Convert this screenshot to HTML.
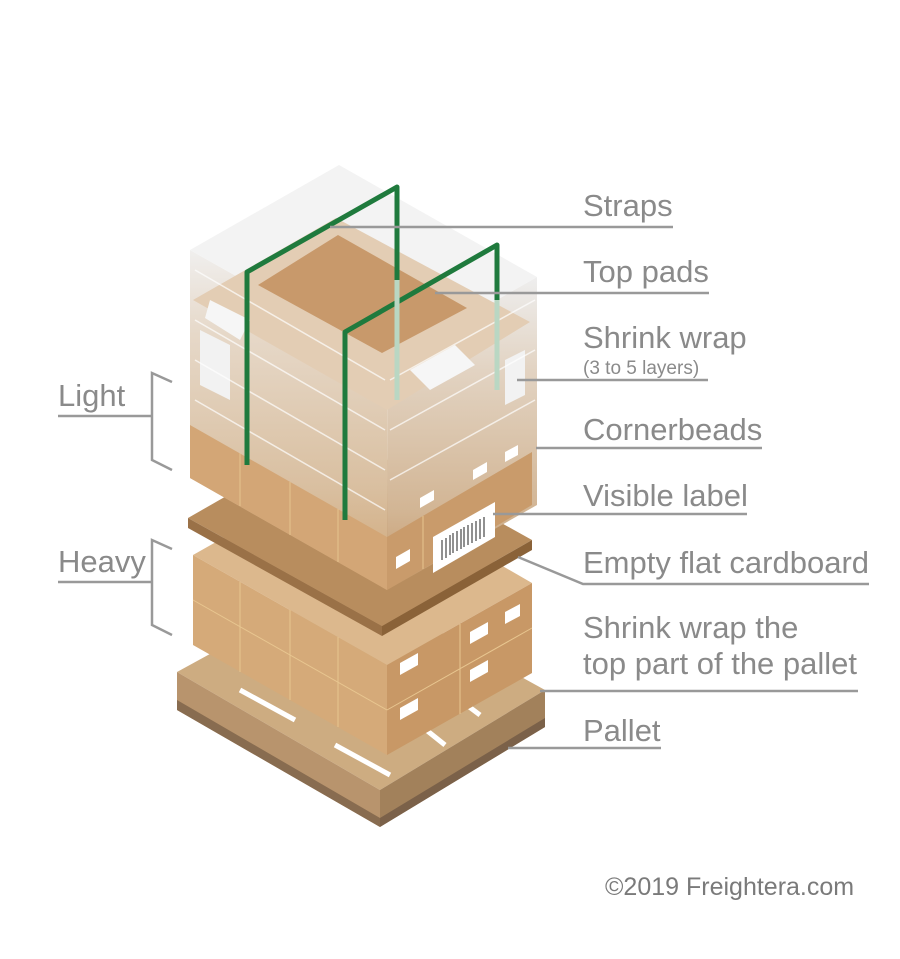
<!DOCTYPE html>
<html><head><meta charset="utf-8"><style>
html,body{margin:0;padding:0;background:#fff;}
svg{display:block;}
text{font-family:"Liberation Sans",Arial,sans-serif;fill:#8a8a8a;}
</style></head><body>
<svg width="900" height="959" viewBox="0 0 900 959" xmlns="http://www.w3.org/2000/svg">
<defs>
<linearGradient id="lf" x1="0" y1="0" x2="0" y2="1">
<stop offset="0" stop-color="#f0efee"/><stop offset="0.25" stop-color="#e6d8c8"/><stop offset="0.7" stop-color="#d9bfa0"/><stop offset="1" stop-color="#cfa676"/>
</linearGradient>
<linearGradient id="rf" x1="0" y1="0" x2="0" y2="1">
<stop offset="0" stop-color="#eeeeee"/><stop offset="0.3" stop-color="#e2d3c2"/><stop offset="0.75" stop-color="#d2b594"/><stop offset="1" stop-color="#c49868"/>
</linearGradient>
</defs>

<!-- PALLET -->
<polygon points="177,672 345,580 545,690 380,790" fill="#c39a66"/>
<polygon points="177,672 380,790 380,827 177,710" fill="#a97d4d"/>
<polygon points="380,790 545,690 545,727 380,827" fill="#8e6638"/>
<polygon points="177,700 380,818 380,827 177,710" fill="#6e4c2a"/>
<polygon points="380,818 545,718 545,727 380,827" fill="#5e3f22"/>
<g stroke="#fff" stroke-width="5">
<line x1="240" y1="690" x2="295" y2="720"/>
<line x1="335" y1="745" x2="390" y2="775"/>
<line x1="420" y1="725" x2="445" y2="745"/>
<line x1="460" y1="700" x2="480" y2="715"/>
</g>
<polygon points="175,665 348,572 548,685 548,735 380,832 175,715" fill="#ffffff" opacity="0.18"/>

<!-- LOWER BOXES -->
<polygon points="193,555 340,472 532,583 387,665" fill="#dcb88d"/>
<polygon points="193,555 387,665 387,755 193,645" fill="#d5aa79"/>
<polygon points="387,665 532,583 532,673 387,755" fill="#c89866"/>
<g stroke="#e8c690" stroke-width="1" fill="none">
<line x1="193" y1="600" x2="387" y2="710"/>
<line x1="387" y1="710" x2="532" y2="628"/>
<line x1="240" y1="582" x2="240" y2="672"/>
<line x1="290" y1="610" x2="290" y2="700"/>
<line x1="338" y1="637" x2="338" y2="727"/>
<line x1="460" y1="624" x2="460" y2="714"/>
</g>
<g fill="#fff">
<polygon points="400,708 418,698 418,710 400,720"/>
<polygon points="470,670 488,660 488,672 470,682"/>
<polygon points="400,663 418,653 418,665 400,675"/>
<polygon points="470,632 488,622 488,634 470,644"/>
<polygon points="505,612 520,604 520,616 505,624"/>
</g>

<!-- SHEET -->
<polygon points="188,518 338,432 532,540 382,626" fill="#b88d5e"/>
<polygon points="188,518 382,626 382,636 188,528" fill="#9a7147"/>
<polygon points="382,626 532,540 532,550 382,636" fill="#8a6238"/>

<!-- UPPER BLOCK -->
<polygon points="190,250 388,362 387,590 190,478" fill="url(#lf)"/>
<polygon points="388,362 537,277 537,505 387,590" fill="url(#rf)"/>
<polygon points="190,425 387,537 387,590 190,478" fill="#d3a676"/>
<polygon points="387,537 532,452 532,505 387,590" fill="#c99b6b"/>
<g stroke="#e6c48f" stroke-width="1">
<line x1="240" y1="453" x2="240" y2="506"/>
<line x1="290" y1="482" x2="290" y2="535"/>
<line x1="338" y1="509" x2="338" y2="562"/>
<line x1="423" y1="516" x2="423" y2="569"/>
</g>
<polygon points="339,165 190,250 388,362 537,277" fill="#f3f3f3"/>
<polygon points="336,218 193,300 387,410 530,322" fill="#e3cdb4"/>
<polygon points="258,285 338,235 467,308 382,353" fill="#c8996b"/>
<polygon points="210,300 250,320 240,340 205,318" fill="#f6f6f6"/>
<polygon points="410,370 455,345 475,365 430,390" fill="#f6f6f6"/>
<polygon points="200,330 230,345 230,400 200,385" fill="#f2f2f2"/>
<polygon points="505,360 525,350 525,395 505,405" fill="#f2f2f2"/>
<g stroke="#ffffff" stroke-width="1.5" opacity="0.7">
<line x1="195" y1="270" x2="385" y2="380"/>
<line x1="195" y1="320" x2="385" y2="430"/>
<line x1="195" y1="360" x2="385" y2="470"/>
<line x1="195" y1="400" x2="385" y2="510"/>
<line x1="390" y1="380" x2="535" y2="300"/>
<line x1="390" y1="430" x2="535" y2="350"/>
<line x1="390" y1="480" x2="535" y2="400"/>
</g>
<!-- label -->
<polygon points="433,537 495,502 495,537 433,573" fill="#fff"/>
<g stroke="#222" stroke-width="1">
<line x1="442" y1="540" x2="442" y2="560"/><line x1="446" y1="538" x2="446" y2="558"/>
<line x1="450" y1="535" x2="450" y2="555"/><line x1="453" y1="533" x2="453" y2="553"/>
<line x1="457" y1="531" x2="457" y2="551"/><line x1="461" y1="529" x2="461" y2="549"/>
<line x1="464" y1="527" x2="464" y2="547"/><line x1="468" y1="525" x2="468" y2="545"/>
<line x1="472" y1="523" x2="472" y2="543"/><line x1="476" y1="521" x2="476" y2="541"/>
<line x1="480" y1="519" x2="480" y2="539"/><line x1="484" y1="517" x2="484" y2="537"/>
</g>
<g fill="#fff">
<polygon points="396,557 410,549 410,561 396,569"/>
<polygon points="420,498 434,490 434,500 420,508"/>
<polygon points="473,470 487,462 487,472 473,480"/>
<polygon points="505,452 518,445 518,455 505,462"/>
</g>

<!-- STRAPS -->
<g stroke="#1f7a3d" stroke-width="5" fill="none" stroke-linejoin="round">
<polyline points="247,465 247,272 397,187 397,400" />
<polyline points="345,520 345,332 497,245 497,390"/>
</g>
<line x1="397" y1="280" x2="397" y2="400" stroke="#b9d7c3" stroke-width="5"/>
<line x1="497" y1="300" x2="497" y2="390" stroke="#b9d7c3" stroke-width="5"/>

<!-- LEADERS -->
<g stroke="#999" stroke-width="2.5" fill="none">
<line x1="330" y1="227" x2="673" y2="227"/>
<line x1="435" y1="293" x2="709" y2="293"/>
<line x1="517" y1="380" x2="708" y2="380"/>
<line x1="536" y1="448" x2="762" y2="448"/>
<line x1="493" y1="514" x2="747" y2="514"/>
<polyline points="518,557 583,584 869,584"/>
<line x1="540" y1="691" x2="858" y2="691"/>
<line x1="508" y1="748" x2="661" y2="748"/>
<line x1="58" y1="416" x2="152" y2="416"/>
<polyline points="172,382 152,373 152,460 172,470"/>
<line x1="58" y1="582" x2="152" y2="582"/>
<polyline points="172,549 152,540 152,625 172,635"/>
</g>

<!-- TEXT -->
<g font-size="31">
<text x="583" y="216">Straps</text>
<text x="583" y="282">Top pads</text>
<text x="583" y="348">Shrink wrap</text>
<text x="583" y="374" font-size="19">(3 to 5 layers)</text>
<text x="583" y="440">Cornerbeads</text>
<text x="583" y="506">Visible label</text>
<text x="583" y="573">Empty flat cardboard</text>
<text x="583" y="638">Shrink wrap the</text>
<text x="583" y="674">top part of the pallet</text>
<text x="583" y="741">Pallet</text>
<text x="58" y="406">Light</text>
<text x="58" y="572">Heavy</text>
</g>
<text x="605" y="895" font-size="25" style="fill:#7a7a7a">©2019 Freightera.com</text>
</svg>
</body></html>
